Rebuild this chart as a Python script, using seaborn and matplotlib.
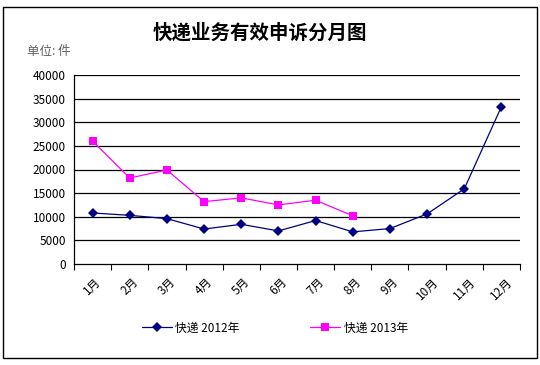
import matplotlib
matplotlib.use("Agg")
import matplotlib.pyplot as plt
import seaborn as sns
import pandas as pd
import numpy as np
from matplotlib.patches import Rectangle

months = ["1月", "2月", "3月", "4月", "5月", "6月", "7月", "8月", "9月", "10月", "11月", "12月"]
v2012 = [10800, 10300, 9600, 7400, 8400, 7000, 9200, 6800, 7500, 10600, 15900, 33300]
v2013 = [26000, 18200, 19900, 13200, 14000, 12500, 13500, 10200]
series_names = ["快递 2012年", "快递 2013年"]
yticks = [0, 5000, 10000, 15000, 20000, 25000, 30000, 35000, 40000]

sns.set_theme(style="white")
plt.rcParams['font.family'] = ['Noto Sans CJK SC', 'DejaVu Sans']
plt.rcParams['text.color'] = 'black'
plt.rcParams['xtick.color'] = 'black'
plt.rcParams['ytick.color'] = 'black'

df = pd.concat([
    pd.DataFrame({"month": months, "pos": np.arange(len(months)), "value": v2012, "series": series_names[0]}),
    pd.DataFrame({"month": months[:len(v2013)], "pos": np.arange(len(v2013)), "value": v2013, "series": series_names[1]}),
])

fig = plt.figure(figsize=(5.4, 3.65), dpi=100)
fig.patches.append(Rectangle((3/540, 7/365), 534/540, 351/365, transform=fig.transFigure,
                             fill=False, edgecolor="black", linewidth=1.0))
ax = fig.add_axes([74/540, 1-264/365, 446/540, 189/365])

sns.lineplot(data=df, x="pos", y="value", hue="series", style="series",
             palette={series_names[0]: "#000080", series_names[1]: "#FF00FF"},
             markers={series_names[0]: "D", series_names[1]: "s"},
             dashes=False, markersize=5, linewidth=0.9, markeredgewidth=0,
             ax=ax, legend=True)
for ln in ax.lines:
    if ln.get_marker() == "s":
        ln.set_markersize(6)

ax.set_xlim(-0.5, 11.5)
ax.set_ylim(0, 40000)
ax.set_yticks(yticks)
ax.set_yticklabels([str(v) for v in yticks], fontsize=8.5)
for y in yticks[1:]:
    ax.axhline(y, color="black", linewidth=0.9, zorder=0)
ax.set_xticks(np.arange(len(months)))
ax.set_xticklabels(months, rotation=45, fontsize=8.5, ha="center")
ax.set_xticks(np.arange(-0.5, 12, 1), minor=True)
ax.tick_params(axis="x", which="major", length=0, pad=8)
ax.tick_params(axis="x", which="minor", length=4, width=0.8, color="black", direction="out", bottom=True)
ax.tick_params(axis="y", length=0, pad=6)
ax.set_xlabel("")
ax.set_ylabel("")
for s in ["top", "right"]:
    ax.spines[s].set_visible(False)
for s in ["left", "bottom"]:
    ax.spines[s].set_color("black")
    ax.spines[s].set_linewidth(0.9)

h, l = ax.get_legend_handles_labels()
for hh in h:
    if hh.get_marker() == "s":
        hh.set_markersize(6)
ax.legend(h, l, loc="center", bbox_to_anchor=(275/540, 1-328/365), bbox_transform=fig.transFigure,
          ncol=2, frameon=False, fontsize=8.5, columnspacing=6, handlelength=2.5, handletextpad=0.3)

fig.text(260/540, 1-33/365, "快递业务有效申诉分月图", ha="center", va="center", fontsize=14, fontweight="bold")
fig.text(27/540, 1-52/365, "单位: 件", ha="left", va="center", fontsize=9, color="#606060")

fig.savefig("out.png", dpi=100)
